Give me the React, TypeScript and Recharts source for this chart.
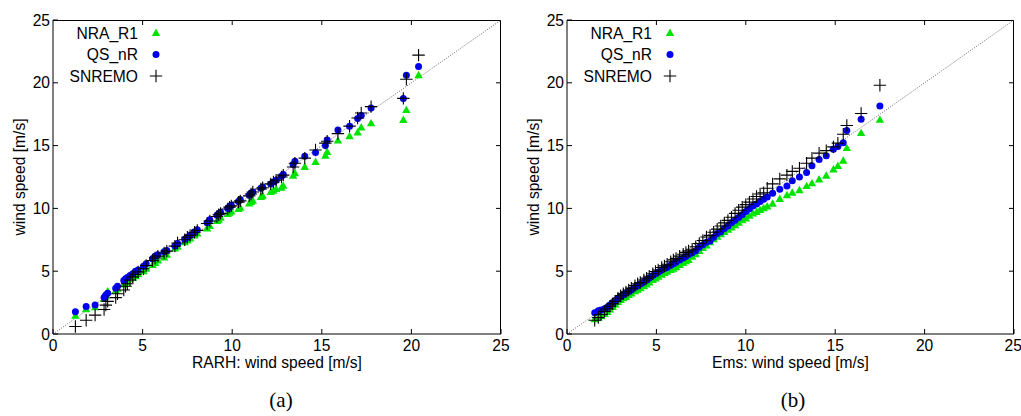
import React from 'react';
import { ScatterChart, Scatter, XAxis, YAxis, ReferenceLine, Legend } from 'recharts';

const FONT = '"Liberation Sans", Arial, Helvetica, sans-serif';
const FS = 15.6;
const GREEN = '#00e400';
const BLUE = '#0000ee';

const axisTicks = [0, 5, 10, 15, 20, 25];
const innerTicks = [5, 10, 15, 20];
const axisMin = 0;
const axisMax = 25;
const seriesNames = ['NRA_R1', 'QS_nR', 'SNREMO'];

// (a) x: RARH wind speed quantiles
const xA = [1.25, 1.85, 2.35, 2.85, 2.95, 3.05, 3.5, 3.6, 3.95, 4.05, 4.15, 4.3, 4.45, 4.6, 4.75, 5.05, 5.2, 5.55, 5.7, 5.85, 6.2, 6.35, 6.8, 6.95, 7.35, 7.5, 7.65, 7.9, 8.05, 8.6, 8.75, 9.15, 9.25, 9.35, 9.75, 9.85, 9.95, 10.35, 10.45, 10.95, 11.05, 11.15, 11.6, 11.7, 12.15, 12.3, 12.45, 12.75, 12.85, 13.4, 13.5, 14.05, 14.65, 15.2, 15.3, 15.9, 16.55, 17.0, 17.2, 17.75, 19.55, 19.72, 20.4];
const nraA = [1.45, 1.97, 2.12, 2.8, 3.0, 3.4, 3.45, 3.6, 3.95, 4.1, 4.2, 4.35, 4.45, 4.6, 4.75, 5.0, 5.2, 5.5, 5.65, 5.85, 6.1, 6.3, 6.8, 6.95, 7.3, 7.45, 7.6, 7.85, 8.0, 8.4, 8.6, 9.0, 9.1, 9.25, 9.55, 9.65, 9.75, 9.95, 10.05, 10.4, 10.5, 10.6, 10.9, 11.0, 11.3, 11.4, 11.55, 11.65, 11.8, 12.6, 12.8, 13.3, 13.7, 14.2, 14.5, 15.4, 15.75, 16.05, 16.45, 16.77, 17.04, 17.83, 20.6];
const qsA = [1.78, 2.18, 2.31, 2.9, 3.1, 3.25, 3.65, 3.8, 4.25, 4.4, 4.5, 4.65, 4.8, 5.0, 5.1, 5.4, 5.6, 6.0, 6.2, 6.3, 6.55, 6.65, 7.0, 7.2, 7.55, 7.7, 7.85, 8.15, 8.3, 8.85, 9.1, 9.45, 9.6, 9.7, 10.0, 10.15, 10.25, 10.55, 10.7, 11.05, 11.2, 11.3, 11.6, 11.7, 11.95, 12.1, 12.25, 12.55, 12.7, 13.5, 13.75, 14.15, 14.45, 15.0, 15.45, 16.25, 16.55, 17.15, 17.4, 18.0, 18.75, 20.6, 21.3];
const snA = [0.6, 1.1, 1.5, 1.95, 2.3, 2.6, 2.9, 3.2, 3.5, 3.8, 4.0, 4.3, 4.55, 4.75, 4.95, 5.2, 5.45, 5.85, 6.05, 6.2, 6.45, 6.6, 7.0, 7.25, 7.5, 7.7, 7.85, 8.1, 8.25, 8.8, 9.0, 9.35, 9.5, 9.6, 9.95, 10.1, 10.2, 10.5, 10.6, 11.0, 11.15, 11.3, 11.55, 11.65, 11.95, 12.1, 12.25, 12.5, 12.65, 13.3, 13.6, 14.0, 14.65, 15.2, 15.35, 15.95, 16.55, 17.2, 17.6, 18.1, 18.76, 20.28, 22.2];

// (b) x: Ems wind speed quantiles
const xB = [1.55, 1.75, 1.9, 2.1, 2.25, 2.4, 2.55, 2.7, 2.85, 3.0, 3.15, 3.3, 3.45, 3.6, 3.8, 3.95, 4.1, 4.3, 4.45, 4.6, 4.8, 4.95, 5.1, 5.3, 5.45, 5.6, 5.8, 5.95, 6.1, 6.3, 6.5, 6.65, 6.8, 7.0, 7.2, 7.4, 7.6, 7.8, 8.0, 8.2, 8.4, 8.6, 8.8, 9.0, 9.2, 9.4, 9.6, 9.8, 10.0, 10.2, 10.4, 10.6, 10.8, 11.0, 11.2, 11.5, 11.9, 12.3, 12.6, 13.0, 13.4, 13.7, 14.1, 14.5, 14.9, 15.15, 15.45, 15.65, 16.45, 17.5];
const nraB = [1.17, 1.3, 1.42, 1.6, 1.75, 1.95, 2.15, 2.35, 2.55, 2.7, 2.85, 2.95, 3.1, 3.22, 3.4, 3.52, 3.65, 3.8, 3.95, 4.1, 4.3, 4.42, 4.55, 4.72, 4.85, 4.95, 5.1, 5.2, 5.32, 5.5, 5.65, 5.8, 5.9, 6.15, 6.35, 6.6, 6.85, 7.05, 7.3, 7.55, 7.75, 7.95, 8.12, 8.3, 8.48, 8.65, 8.85, 9.05, 9.2, 9.42, 9.6, 9.72, 9.88, 10.02, 10.15, 10.38, 10.75, 11.05, 11.25, 11.45, 11.78, 12.0, 12.3, 12.6, 13.1, 13.38, 13.8, 14.8, 16.0, 17.05];
const qsB = [1.7, 1.85, 1.92, 2.02, 2.12, 2.3, 2.5, 2.65, 2.85, 2.98, 3.12, 3.25, 3.38, 3.5, 3.72, 3.85, 3.98, 4.15, 4.3, 4.45, 4.65, 4.8, 4.92, 5.1, 5.22, 5.3, 5.48, 5.6, 5.72, 5.9, 6.05, 6.18, 6.32, 6.45, 6.62, 6.9, 7.1, 7.3, 7.4, 7.7, 8.0, 8.15, 8.4, 8.6, 8.85, 9.05, 9.28, 9.5, 9.75, 9.98, 10.2, 10.35, 10.55, 10.72, 10.9, 11.2, 11.52, 11.78, 12.2, 12.5, 12.85, 13.4, 13.9, 14.2, 14.7, 14.92, 15.23, 16.2, 17.1, 18.15];
const snB = [1.1, 1.3, 1.55, 1.8, 2.0, 2.2, 2.4, 2.6, 2.85, 3.05, 3.2, 3.35, 3.5, 3.65, 3.85, 4.0, 4.1, 4.3, 4.45, 4.6, 4.8, 4.98, 5.1, 5.3, 5.42, 5.55, 5.75, 5.9, 6.02, 6.2, 6.35, 6.5, 6.62, 6.75, 6.95, 7.2, 7.45, 7.72, 7.85, 8.1, 8.35, 8.6, 8.85, 9.05, 9.3, 9.6, 9.85, 10.1, 10.3, 10.5, 10.75, 10.95, 11.15, 11.25, 11.6, 11.95, 12.35, 12.65, 12.95, 13.2, 13.6, 14.0, 14.4, 14.6, 14.9, 15.2, 15.9, 16.6, 17.55, 19.8];

const pts = (xs: number[], ys: number[]) => xs.map((x, i) => ({ x, y: ys[i] }));

const Tri = (p: any) => {
  const { cx, cy } = p;
  if (cx == null || cy == null) return null;
  return <path d={`M${cx},${cy - 4.4}L${cx + 4.2},${cy + 3.0}L${cx - 4.2},${cy + 3.0}Z`} fill={GREEN} />;
};
const Dot = (p: any) => {
  const { cx, cy } = p;
  if (cx == null || cy == null) return null;
  return <circle cx={cx} cy={cy} r={3.5} fill={BLUE} />;
};
const Plus = (p: any) => {
  const { cx, cy } = p;
  if (cx == null || cy == null) return null;
  return <path d={`M${cx - 6.2},${cy}H${cx + 6.2}M${cx},${cy - 6.2}V${cy + 6.2}`} stroke="#000" strokeWidth={1.1} fill="none" />;
};

const LegendBox = () => (
  <svg width={110} height={66} style={{ display: 'block', overflow: 'visible' }}>
    {seriesNames.map((name, i) => {
      const cy = 11 + i * 21.5;
      return (
        <g key={name}>
          <text x={78} y={cy + 5.5} textAnchor="end" fontSize={FS} fontFamily={FONT} fill="#000">
            {name}
          </text>
          {i === 0 && <Tri cx={96} cy={cy} />}
          {i === 1 && <Dot cx={96} cy={cy} />}
          {i === 2 && <Plus cx={96} cy={cy} />}
        </g>
      );
    })}
  </svg>
);

const tickStyle = { fontSize: FS, fill: '#000', fontFamily: FONT };

// plot box inside each chart (chart-local pixels): margins + axis sizes
const PLOT = { left: 53, top: 20, height: 314 };

// top border + right border with inward ticks, as an overlay frame matching the plot box
function Frame(props: { plotWidth: number }) {
  const { plotWidth } = props;
  const L = PLOT.left;
  const T = PLOT.top;
  const R = L + plotWidth;
  const B = T + PLOT.height;
  const sx = (v: number) => L + ((v - axisMin) / (axisMax - axisMin)) * plotWidth;
  const sy = (v: number) => B - ((v - axisMin) / (axisMax - axisMin)) * PLOT.height;
  let d = `M${L},${T + 0.5}H${R - 0.5}V${B}`;
  innerTicks.forEach((t) => {
    d += `M${sx(t)},${T}v5M${R},${sy(t)}h-5`;
  });
  return (
    <svg width={R + 2} height={B + 2} style={{ position: 'absolute', left: 0, top: 0, pointerEvents: 'none', overflow: 'visible' }}>
      <path d={d} stroke="#000" strokeWidth={1} fill="none" />
    </svg>
  );
}

function Panel(props: { xs: number[]; nra: number[]; qs: number[]; sn: number[]; xlabel: string; width: number; right: number }) {
  const { xs, nra, qs, sn, xlabel, width, right } = props;
  return (
    <div style={{ position: 'relative', width, height: 380 }}>
      <ScatterChart width={width} height={380} margin={{ top: PLOT.top, right, bottom: 0, left: 13 }} style={{ fontFamily: FONT }}>
        <XAxis
          type="number"
          dataKey="x"
          domain={[0, 25]}
          ticks={axisTicks}
          allowDataOverflow
          height={46}
          tickSize={-5}
          tickMargin={11}
          stroke="#000"
          tick={tickStyle}
          label={{ value: xlabel, position: 'insideBottom', offset: 12, style: { fontSize: FS, fill: '#000', fontFamily: FONT } }}
        />
        <YAxis
          type="number"
          dataKey="y"
          domain={[0, 25]}
          ticks={axisTicks}
          allowDataOverflow
          width={40}
          tickSize={-5}
          tickMargin={8}
          stroke="#000"
          tick={tickStyle}
          label={{ value: 'wind speed [m/s]', angle: -90, position: 'insideLeft', offset: 6, style: { textAnchor: 'middle', fontSize: FS, fill: '#000', fontFamily: FONT } }}
        />
        <ReferenceLine
          segment={[{ x: axisMin, y: axisMin }, { x: axisMax, y: axisMax }]}
          stroke="#555"
          strokeWidth={0.9}
          strokeDasharray="1 1.5"
          ifOverflow="hidden"
        />
        <Scatter name="NRA_R1" data={pts(xs, nra)} shape={Tri} isAnimationActive={false} />
        <Scatter name="QS_nR" data={pts(xs, qs)} shape={Dot} isAnimationActive={false} />
        <Scatter name="SNREMO" data={pts(xs, sn)} shape={Plus} isAnimationActive={false} />
        <Legend
          layout="vertical"
          align="center"
          verticalAlign="middle"
          wrapperStyle={{ left: 60, top: 22, width: 110, height: 66, margin: 0 }}
          content={() => <LegendBox />}
        />
      </ScatterChart>
      <Frame plotWidth={width - right - PLOT.left} />
    </div>
  );
}

const captionStyle: React.CSSProperties = {
  position: 'absolute',
  top: 387,
  width: 100,
  textAlign: 'center',
  fontFamily: '"Liberation Serif", "DejaVu Serif", serif',
  fontSize: 21,
  lineHeight: '26px',
  color: '#000',
};

export default function App() {
  return (
    <div style={{ position: 'absolute', left: 0, top: 0, width: 1021, height: 416, background: '#fff' }}>
      <div style={{ position: 'absolute', left: 0, top: 0 }}>
        <Panel xs={xA} nra={nraA} qs={qsA} sn={snA} xlabel="RARH: wind speed [m/s]" width={510} right={9} />
      </div>
      <div style={{ position: 'absolute', left: 514, top: 0 }}>
        <Panel xs={xB} nra={nraB} qs={qsB} sn={snB} xlabel="Ems: wind speed [m/s]" width={507} right={7} />
      </div>
      <div style={{ ...captionStyle, left: 231 }}>(a)</div>
      <div style={{ ...captionStyle, left: 743 }}>(b)</div>
    </div>
  );
}
